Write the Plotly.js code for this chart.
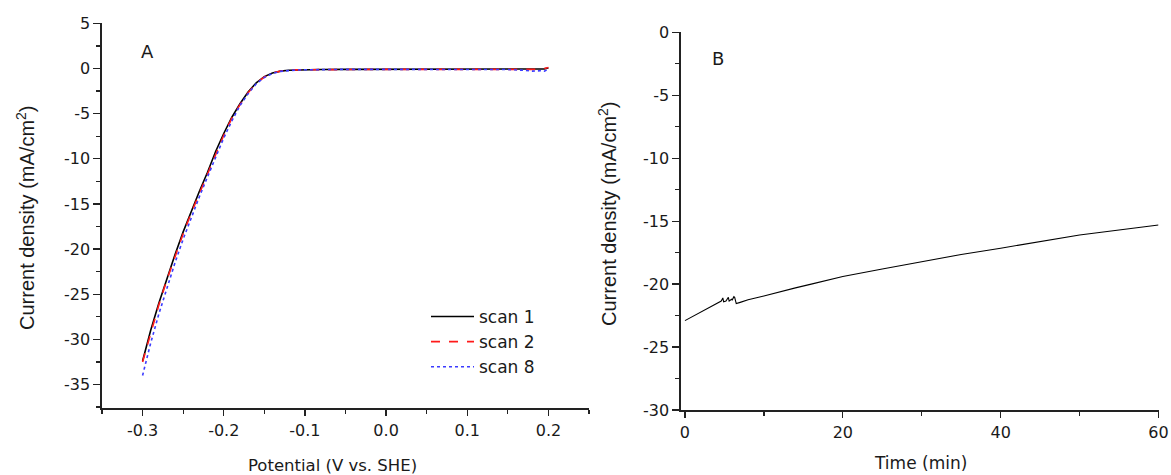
<!DOCTYPE html>
<html>
<head>
<meta charset="utf-8">
<script src="https://cdn.plot.ly/plotly-3.0.1.min.js"></script>
<style>html,body{margin:0;padding:0;background:#fff;}#chart{width:1171px;height:475px;}</style>
</head>
<body>
<div id="chart"></div>
<script>
// Panel A: polarization curves
const potential = [-0.30,-0.29,-0.28,-0.27,-0.26,-0.25,-0.24,-0.23,-0.22,-0.21,-0.20,-0.19,-0.18,-0.17,-0.16,-0.15,-0.14,-0.13,-0.12,-0.11,-0.10,-0.08,-0.05,0.00,0.05,0.10,0.15,0.17,0.18,0.19,0.195,0.20];
const scan1 = [-32.4,-29.0,-26.0,-23.2,-20.6,-18.1,-15.8,-13.6,-11.5,-9.2,-7.2,-5.4,-3.9,-2.6,-1.6,-0.9,-0.5,-0.3,-0.2,-0.16,-0.14,-0.12,-0.1,-0.1,-0.1,-0.1,-0.1,-0.12,-0.1,-0.12,-0.05,0.05];
const scan2 = [-32.5,-29.2,-26.2,-23.4,-20.8,-18.3,-16.0,-13.8,-11.7,-9.4,-7.4,-5.5,-4.0,-2.7,-1.65,-0.95,-0.5,-0.3,-0.2,-0.16,-0.14,-0.12,-0.1,-0.1,-0.1,-0.1,-0.1,-0.12,-0.15,-0.1,0.0,0.1];
const scan8 = [-34.0,-30.4,-27.2,-24.3,-21.5,-18.9,-16.5,-14.2,-12.0,-9.8,-7.7,-5.8,-4.1,-2.8,-1.7,-1.0,-0.55,-0.32,-0.22,-0.17,-0.15,-0.12,-0.1,-0.1,-0.1,-0.1,-0.12,-0.2,-0.3,-0.25,-0.3,-0.1];
const seriesNames = ["scan 1","scan 2","scan 8"];
const xTicksA = [-0.3,-0.2,-0.1,0.0,0.1,0.2];
const xTickTextA = ["-0.3","-0.2","-0.1","0.0","0.1","0.2"];
const yTicksA = [5,0,-5,-10,-15,-20,-25,-30,-35];
const yTickTextA = ["5","0","-5","-10","-15","-20","-25","-30","-35"];

// Panel B: chronoamperometry
const timeMin = [0,1,2,3,3.8,4.4,4.6,4.8,4.9,5.2,5.4,5.5,5.6,5.9,6.0,6.2,6.3,6.5,7,8,10,12,14,16,18,20,25,30,35,40,45,50,55,60];
const currentB = [-22.9,-22.55,-22.2,-21.9,-21.6,-21.4,-21.35,-21.1,-21.4,-21.35,-21.1,-21.05,-21.35,-21.2,-21.25,-21.0,-21.05,-21.55,-21.45,-21.25,-20.95,-20.6,-20.3,-20.0,-19.7,-19.4,-18.8,-18.2,-17.65,-17.15,-16.6,-16.1,-15.7,-15.3];
const xTicksB = [0,20,40,60];
const yTicksB = [0,-5,-10,-15,-20,-25,-30];
const yTickTextB = ["0","-5","-10","-15","-20","-25","-30"];

const FONT = "DejaVu Sans, sans-serif";
const FONT_ARIAL = "Liberation Sans, Arial, sans-serif";
const AX = "#222";
const TXT = "#1a1a1a";

const traces = [
  {x: potential, y: scan1, name: seriesNames[0], mode: "lines", line: {color: "#000000", width: 1.6, dash: "solid"}, xaxis: "x", yaxis: "y"},
  {x: potential, y: scan2, name: seriesNames[1], mode: "lines", line: {color: "#ff1a1a", width: 1.6, dash: "dash"}, xaxis: "x", yaxis: "y"},
  {x: potential, y: scan8, name: seriesNames[2], mode: "lines", line: {color: "#3b3bff", width: 1.6, dash: "dot"}, xaxis: "x", yaxis: "y"},
  {x: timeMin, y: currentB, name: "B", mode: "lines", line: {color: "#000000", width: 1.1}, xaxis: "x2", yaxis: "y2", showlegend: false}
];

function axisBase(extra) {
  return Object.assign({
    showgrid: false, zeroline: false, showline: true, linecolor: AX, linewidth: 1.6,
    ticks: "outside", ticklen: 6, tickwidth: 1.3, tickcolor: AX,
    tickfont: {family: FONT, size: 16, color: TXT},
    mirror: false, fixedrange: true
  }, extra);
}

const W = 1171, H = 475;
const layout = {
  width: W, height: H,
  margin: {l: 0, r: 0, t: 0, b: 0},
  paper_bgcolor: "#fff", plot_bgcolor: "#fff",
  showlegend: true,
  legend: {x: 426/W, y: 1 - 299/H, xanchor: "left", yanchor: "top",
           font: {family: FONT, size: 17, color: TXT}, bgcolor: "rgba(0,0,0,0)", borderwidth: 0,
           itemwidth: 43, tracegroupgap: 0},
  xaxis: axisBase({domain: [102/W, 589/W], range: [-0.35, 0.25], tickvals: xTicksA,
    ticktext: xTickTextA, anchor: "y", ticklabelstandoff: 1,
    minor: {dtick: 0.05, tick0: 0, ticks: "outside", ticklen: 4, tickcolor: AX, tickwidth: 1.3}}),
  yaxis: axisBase({domain: [1 - 408/H, 1 - 23.3/H], range: [-37.6, 5], tickvals: yTicksA, ticktext: yTickTextA,
    anchor: "x", ticklen: 7,
    minor: {dtick: 2.5, tick0: 0, ticks: "outside", ticklen: 4, tickcolor: AX, tickwidth: 1.3}}),
  xaxis2: axisBase({domain: [681/W, 1158.5/W], range: [-0.5, 60], tickvals: xTicksB, anchor: "y2",
    ticklabelstandoff: 1,
    minor: {dtick: 10, tick0: 0, ticks: "outside", ticklen: 4, tickcolor: AX, tickwidth: 1.3}}),
  yaxis2: axisBase({domain: [1 - 410/H, 1 - 32.3/H], range: [-30, 0], tickvals: yTicksB, ticktext: yTickTextB, anchor: "x2",
    ticklen: 7,
    minor: {dtick: 2.5, tick0: 0, ticks: "outside", ticklen: 4, tickcolor: AX, tickwidth: 1.3}}),
  annotations: [
    {text: "Potential (V vs. SHE)", xref: "paper", yref: "paper", x: 332/W, y: 1 - 465/H, xanchor: "center", yanchor: "middle", showarrow: false, font: {family: FONT, size: 16.5, color: TXT}},
    {text: "Current density (mA/cm<sup>2</sup>)", xref: "paper", yref: "paper", x: 26/W, y: 1 - 218/H, xanchor: "center", yanchor: "middle", textangle: -90, showarrow: false, font: {family: FONT_ARIAL, size: 20, color: TXT}},
    {text: "Time (min)", xref: "paper", yref: "paper", x: 920/W, y: 1 - 463/H, xanchor: "center", yanchor: "middle", showarrow: false, font: {family: FONT, size: 17, color: TXT}},
    {text: "Current density (mA/cm<sup>2</sup>)", xref: "paper", yref: "paper", x: 607/W, y: 1 - 214/H, xanchor: "center", yanchor: "middle", textangle: -90, showarrow: false, font: {family: FONT_ARIAL, size: 20, color: TXT}},
    {text: "A", xref: "paper", yref: "paper", x: 147/W, y: 1 - 51.5/H, xanchor: "center", yanchor: "middle", showarrow: false, font: {family: FONT, size: 18, color: TXT}},
    {text: "B", xref: "paper", yref: "paper", x: 717.5/W, y: 1 - 58.3/H, xanchor: "center", yanchor: "middle", showarrow: false, font: {family: FONT, size: 18, color: TXT}}
  ]
};

Plotly.newPlot("chart", traces, layout, {staticPlot: true, displayModeBar: false});
</script>
</body>
</html>
